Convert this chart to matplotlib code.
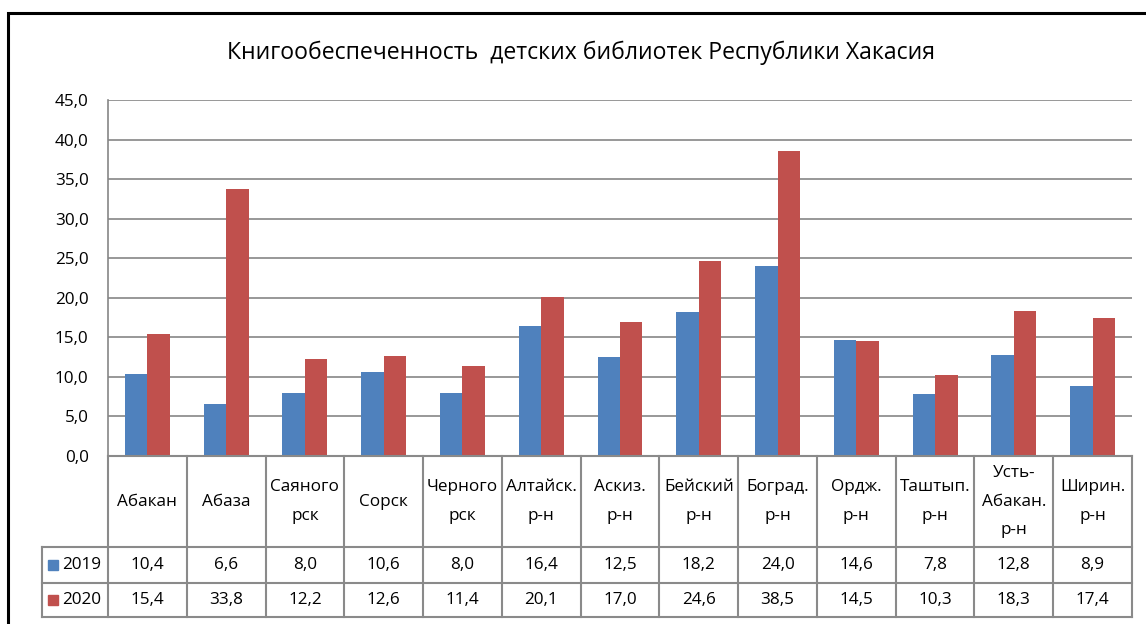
import matplotlib
matplotlib.use("Agg")
import matplotlib.pyplot as plt
import numpy as np
from matplotlib.patches import Rectangle

plt.rcParams['font.family'] = ['Open Sans', 'DejaVu Sans']

# data
categories = ["Абакан", "Абаза", "Саяного\nрск", "Сорск", "Черного\nрск",
              "Алтайск.\nр-н", "Аскиз.\nр-н", "Бейский\nр-н", "Боград.\nр-н",
              "Ордж.\nр-н", "Таштып.\nр-н", "Усть-\nАбакан.\nр-н", "Ширин.\nр-н"]
series_names = ["2019", "2020"]
v2019 = [10.4, 6.6, 8.0, 10.6, 8.0, 16.4, 12.5, 18.2, 24.0, 14.6, 7.8, 12.8, 8.9]
v2020 = [15.4, 33.8, 12.2, 12.6, 11.4, 20.1, 17.0, 24.6, 38.5, 14.5, 10.3, 18.3, 17.4]
y_ticks = [0, 5, 10, 15, 20, 25, 30, 35, 40, 45]

blue = "#4F81BD"
red = "#C0504D"
grid_c = "#868686"
tab_c = "#8a8a8a"

W, H = 1146, 624
fig = plt.figure(figsize=(W / 100, H / 100), dpi=100)

# pixel layout
px_left, px_right = 108, 1132
px_top, px_zero = 100, 456
px_tab_left, px_tab_bottom = 42, 617
n = len(categories)
col_w = (px_right - px_left) / n

ax = fig.add_axes([px_left / W, 1 - px_zero / H, (px_right - px_left) / W, (px_zero - px_top) / H])
x = np.arange(n)
bw = 0.285
ax.bar(x - bw / 2, v2019, bw, color=blue, zorder=3)
ax.bar(x + bw / 2, v2020, bw, color=red, zorder=3)
ax.set_xlim(-0.5, n - 0.5)
ax.set_ylim(0, 45)
ax.set_yticks(y_ticks)
ax.set_yticklabels([f"{t:.1f}".replace(".", ",") for t in y_ticks], fontsize=12.3)
ax.tick_params(axis='y', length=0, pad=14)
ax.set_xticks([])
ax.yaxis.grid(True, color=grid_c, lw=1.2, zorder=0)
for s in ["top", "right", "bottom"]:
    ax.spines[s].set_visible(False)
ax.spines["left"].set_color(grid_c)
ax.spines["left"].set_linewidth(1.2)

# data table below
tab = fig.add_axes([px_tab_left / W, 1 - px_tab_bottom / H,
                    (px_right - px_tab_left) / W, (px_tab_bottom - px_zero) / H])
left_units = (px_left - px_tab_left) / col_w
tab.set_xlim(-0.5 - left_units, n - 0.5)
tab.set_ylim(px_tab_bottom - px_zero, 0)
tab.axis("off")
r1, r2, r3 = 91, 127, 161
kw = dict(color=tab_c, lw=1.5, clip_on=False)
tab.plot([-0.5, n - 0.5], [0, 0], **kw)
for yy in (r1, r2, r3):
    tab.plot([-0.5 - left_units, n - 0.5], [yy, yy], **kw)
for i in range(n + 1):
    tab.plot([i - 0.5, i - 0.5], [0, r3], **kw)
tab.plot([-0.5 - left_units, -0.5 - left_units], [r1, r3], **kw)

for i, c in enumerate(categories):
    tab.text(i, r1 / 2, c, ha="center", va="center", fontsize=12.3, linespacing=2.05)
    tab.text(i, (r1 + r2) / 2, f"{v2019[i]:.1f}".replace(".", ","), ha="center", va="center", fontsize=12.3)
    tab.text(i, (r2 + r3) / 2, f"{v2020[i]:.1f}".replace(".", ","), ha="center", va="center", fontsize=12.3)

for name, col, (ya, yb) in zip(series_names, [blue, red], [(r1, r2), (r2, r3)]):
    xm = -0.5 - left_units + 6 / col_w
    tab.add_patch(Rectangle((xm, (ya + yb) / 2 - 5), 10 / col_w, 10, color=col, clip_on=False))
    tab.text(xm + 14 / col_w, (ya + yb) / 2, name, ha="left", va="center", fontsize=12.3)

fig.text(581 / W, 1 - 53 / H, "Книгообеспеченность  детских библиотек Республики Хакасия",
         ha="center", va="center", fontsize=16.6)

# outer chart frame
fig.patches.append(Rectangle((8 / W, -0.1), 1.2, 1.1 - 13 / H, transform=fig.transFigure,
                             fill=False, edgecolor="black", lw=2.2))

fig.savefig("out.png", dpi=100)
